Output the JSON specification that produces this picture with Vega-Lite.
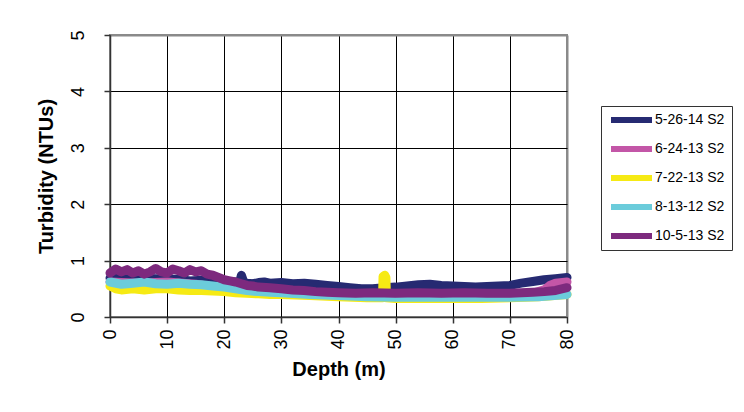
{
  "$schema": "https://vega.github.io/schema/vega-lite/v6.json",
  "autosize": "none",
  "width": 457,
  "height": 282,
  "padding": {"left": 110, "top": 35, "right": 177, "bottom": 95},
  "background": "white",
  "config": {
    "view": {"stroke": "#8a8a8a", "strokeWidth": 2},
    "font": "Liberation Sans",
    "axis": {
      "labelFont": "Liberation Sans",
      "labelColor": "black",
      "labelFontSize": 18,
      "titleFont": "Liberation Sans",
      "titleFontSize": 20,
      "titleFontWeight": "bold",
      "titleColor": "black",
      "domainColor": "#333",
      "domainWidth": 1.5,
      "tickColor": "#333",
      "tickSize": 6,
      "tickWidth": 1.5,
      "grid": true,
      "gridColor": {"condition": {"test": "datum.value == 5 || datum.value == 80", "value": "#8a8a8a"}, "value": "black"},
      "gridWidth": {"condition": {"test": "datum.value == 5 || datum.value == 80", "value": 2}, "value": 1}
    },
    "legend": {
      "labelFont": "Liberation Sans",
      "labelFontSize": 14,
      "labelColor": "black"
    }
  },
  "datasets": {
    "turb": [
      {"s": "5-26-14 S2", "d": 0, "t": 0.69}, {"s": "5-26-14 S2", "d": 4, "t": 0.69}, {"s": "5-26-14 S2", "d": 8, "t": 0.68},
      {"s": "5-26-14 S2", "d": 12, "t": 0.67}, {"s": "5-26-14 S2", "d": 14, "t": 0.64}, {"s": "5-26-14 S2", "d": 16, "t": 0.65},
      {"s": "5-26-14 S2", "d": 18, "t": 0.64}, {"s": "5-26-14 S2", "d": 20, "t": 0.63}, {"s": "5-26-14 S2", "d": 22, "t": 0.62},
      {"s": "5-26-14 S2", "d": 22.7, "t": 0.62}, {"s": "5-26-14 S2", "d": 23, "t": 0.74}, {"s": "5-26-14 S2", "d": 23.4, "t": 0.62},
      {"s": "5-26-14 S2", "d": 24, "t": 0.60}, {"s": "5-26-14 S2", "d": 25, "t": 0.59}, {"s": "5-26-14 S2", "d": 26, "t": 0.61},
      {"s": "5-26-14 S2", "d": 27, "t": 0.62}, {"s": "5-26-14 S2", "d": 28, "t": 0.60}, {"s": "5-26-14 S2", "d": 30, "t": 0.61},
      {"s": "5-26-14 S2", "d": 32, "t": 0.59}, {"s": "5-26-14 S2", "d": 34, "t": 0.60}, {"s": "5-26-14 S2", "d": 36, "t": 0.58},
      {"s": "5-26-14 S2", "d": 38, "t": 0.56}, {"s": "5-26-14 S2", "d": 40, "t": 0.54}, {"s": "5-26-14 S2", "d": 42, "t": 0.52},
      {"s": "5-26-14 S2", "d": 44, "t": 0.50}, {"s": "5-26-14 S2", "d": 46, "t": 0.50}, {"s": "5-26-14 S2", "d": 48, "t": 0.52},
      {"s": "5-26-14 S2", "d": 50, "t": 0.53}, {"s": "5-26-14 S2", "d": 52, "t": 0.55}, {"s": "5-26-14 S2", "d": 54, "t": 0.57},
      {"s": "5-26-14 S2", "d": 56, "t": 0.58}, {"s": "5-26-14 S2", "d": 58, "t": 0.56}, {"s": "5-26-14 S2", "d": 60, "t": 0.55},
      {"s": "5-26-14 S2", "d": 62, "t": 0.54}, {"s": "5-26-14 S2", "d": 64, "t": 0.53}, {"s": "5-26-14 S2", "d": 66, "t": 0.54},
      {"s": "5-26-14 S2", "d": 68, "t": 0.55}, {"s": "5-26-14 S2", "d": 70, "t": 0.56}, {"s": "5-26-14 S2", "d": 72, "t": 0.60},
      {"s": "5-26-14 S2", "d": 74, "t": 0.63}, {"s": "5-26-14 S2", "d": 76, "t": 0.66}, {"s": "5-26-14 S2", "d": 78, "t": 0.68},
      {"s": "5-26-14 S2", "d": 80, "t": 0.70},

      {"s": "6-24-13 S2", "d": 0, "t": 0.62}, {"s": "6-24-13 S2", "d": 5, "t": 0.60}, {"s": "6-24-13 S2", "d": 10, "t": 0.62},
      {"s": "6-24-13 S2", "d": 15, "t": 0.58}, {"s": "6-24-13 S2", "d": 20, "t": 0.50}, {"s": "6-24-13 S2", "d": 25, "t": 0.45},
      {"s": "6-24-13 S2", "d": 30, "t": 0.43}, {"s": "6-24-13 S2", "d": 35, "t": 0.41}, {"s": "6-24-13 S2", "d": 40, "t": 0.40},
      {"s": "6-24-13 S2", "d": 45, "t": 0.39}, {"s": "6-24-13 S2", "d": 50, "t": 0.39}, {"s": "6-24-13 S2", "d": 55, "t": 0.38},
      {"s": "6-24-13 S2", "d": 60, "t": 0.38}, {"s": "6-24-13 S2", "d": 65, "t": 0.38}, {"s": "6-24-13 S2", "d": 70, "t": 0.39},
      {"s": "6-24-13 S2", "d": 74, "t": 0.42}, {"s": "6-24-13 S2", "d": 76, "t": 0.48}, {"s": "6-24-13 S2", "d": 77, "t": 0.56},
      {"s": "6-24-13 S2", "d": 78, "t": 0.60}, {"s": "6-24-13 S2", "d": 80, "t": 0.62},

      {"s": "7-22-13 S2", "d": 0, "t": 0.55}, {"s": "7-22-13 S2", "d": 1, "t": 0.50}, {"s": "7-22-13 S2", "d": 2, "t": 0.48},
      {"s": "7-22-13 S2", "d": 4, "t": 0.50}, {"s": "7-22-13 S2", "d": 6, "t": 0.48}, {"s": "7-22-13 S2", "d": 8, "t": 0.50},
      {"s": "7-22-13 S2", "d": 10, "t": 0.50}, {"s": "7-22-13 S2", "d": 12, "t": 0.48}, {"s": "7-22-13 S2", "d": 14, "t": 0.47},
      {"s": "7-22-13 S2", "d": 16, "t": 0.47}, {"s": "7-22-13 S2", "d": 18, "t": 0.46}, {"s": "7-22-13 S2", "d": 20, "t": 0.45},
      {"s": "7-22-13 S2", "d": 22, "t": 0.43}, {"s": "7-22-13 S2", "d": 24, "t": 0.42}, {"s": "7-22-13 S2", "d": 26, "t": 0.41},
      {"s": "7-22-13 S2", "d": 28, "t": 0.40}, {"s": "7-22-13 S2", "d": 30, "t": 0.40}, {"s": "7-22-13 S2", "d": 35, "t": 0.38},
      {"s": "7-22-13 S2", "d": 40, "t": 0.36}, {"s": "7-22-13 S2", "d": 45, "t": 0.34}, {"s": "7-22-13 S2", "d": 47.7, "t": 0.34},
      {"s": "7-22-13 S2", "d": 47.8, "t": 0.72}, {"s": "7-22-13 S2", "d": 48.1, "t": 0.74}, {"s": "7-22-13 S2", "d": 48.3, "t": 0.70},
      {"s": "7-22-13 S2", "d": 48.4, "t": 0.34}, {"s": "7-22-13 S2", "d": 50, "t": 0.33}, {"s": "7-22-13 S2", "d": 55, "t": 0.33},
      {"s": "7-22-13 S2", "d": 60, "t": 0.33}, {"s": "7-22-13 S2", "d": 65, "t": 0.33}, {"s": "7-22-13 S2", "d": 70, "t": 0.34},
      {"s": "7-22-13 S2", "d": 75, "t": 0.36}, {"s": "7-22-13 S2", "d": 80, "t": 0.40},

      {"s": "8-13-12 S2", "d": 0, "t": 0.62}, {"s": "8-13-12 S2", "d": 2, "t": 0.58}, {"s": "8-13-12 S2", "d": 4, "t": 0.60},
      {"s": "8-13-12 S2", "d": 6, "t": 0.62}, {"s": "8-13-12 S2", "d": 8, "t": 0.59}, {"s": "8-13-12 S2", "d": 10, "t": 0.58},
      {"s": "8-13-12 S2", "d": 12, "t": 0.60}, {"s": "8-13-12 S2", "d": 14, "t": 0.58}, {"s": "8-13-12 S2", "d": 16, "t": 0.57},
      {"s": "8-13-12 S2", "d": 18, "t": 0.55}, {"s": "8-13-12 S2", "d": 20, "t": 0.53}, {"s": "8-13-12 S2", "d": 22, "t": 0.50},
      {"s": "8-13-12 S2", "d": 24, "t": 0.47}, {"s": "8-13-12 S2", "d": 26, "t": 0.45}, {"s": "8-13-12 S2", "d": 28, "t": 0.44},
      {"s": "8-13-12 S2", "d": 30, "t": 0.43}, {"s": "8-13-12 S2", "d": 35, "t": 0.40}, {"s": "8-13-12 S2", "d": 40, "t": 0.38},
      {"s": "8-13-12 S2", "d": 45, "t": 0.36}, {"s": "8-13-12 S2", "d": 50, "t": 0.35}, {"s": "8-13-12 S2", "d": 55, "t": 0.35},
      {"s": "8-13-12 S2", "d": 60, "t": 0.35}, {"s": "8-13-12 S2", "d": 65, "t": 0.35}, {"s": "8-13-12 S2", "d": 70, "t": 0.35},
      {"s": "8-13-12 S2", "d": 75, "t": 0.36}, {"s": "8-13-12 S2", "d": 80, "t": 0.40},

      {"s": "10-5-13 S2", "d": 0, "t": 0.78}, {"s": "10-5-13 S2", "d": 1, "t": 0.85}, {"s": "10-5-13 S2", "d": 2, "t": 0.80},
      {"s": "10-5-13 S2", "d": 3, "t": 0.84}, {"s": "10-5-13 S2", "d": 4, "t": 0.78}, {"s": "10-5-13 S2", "d": 5, "t": 0.82},
      {"s": "10-5-13 S2", "d": 6, "t": 0.76}, {"s": "10-5-13 S2", "d": 7, "t": 0.80}, {"s": "10-5-13 S2", "d": 8, "t": 0.86},
      {"s": "10-5-13 S2", "d": 9, "t": 0.80}, {"s": "10-5-13 S2", "d": 10, "t": 0.78}, {"s": "10-5-13 S2", "d": 11, "t": 0.85},
      {"s": "10-5-13 S2", "d": 12, "t": 0.82}, {"s": "10-5-13 S2", "d": 13, "t": 0.78}, {"s": "10-5-13 S2", "d": 14, "t": 0.84},
      {"s": "10-5-13 S2", "d": 15, "t": 0.80}, {"s": "10-5-13 S2", "d": 16, "t": 0.82}, {"s": "10-5-13 S2", "d": 17, "t": 0.76},
      {"s": "10-5-13 S2", "d": 18, "t": 0.74}, {"s": "10-5-13 S2", "d": 19, "t": 0.70}, {"s": "10-5-13 S2", "d": 20, "t": 0.66},
      {"s": "10-5-13 S2", "d": 21, "t": 0.64}, {"s": "10-5-13 S2", "d": 22, "t": 0.62}, {"s": "10-5-13 S2", "d": 23, "t": 0.59},
      {"s": "10-5-13 S2", "d": 24, "t": 0.56}, {"s": "10-5-13 S2", "d": 25, "t": 0.55}, {"s": "10-5-13 S2", "d": 26, "t": 0.53},
      {"s": "10-5-13 S2", "d": 28, "t": 0.52}, {"s": "10-5-13 S2", "d": 30, "t": 0.50}, {"s": "10-5-13 S2", "d": 32, "t": 0.48},
      {"s": "10-5-13 S2", "d": 34, "t": 0.47}, {"s": "10-5-13 S2", "d": 36, "t": 0.45}, {"s": "10-5-13 S2", "d": 38, "t": 0.44},
      {"s": "10-5-13 S2", "d": 40, "t": 0.43}, {"s": "10-5-13 S2", "d": 43, "t": 0.42}, {"s": "10-5-13 S2", "d": 46, "t": 0.43},
      {"s": "10-5-13 S2", "d": 50, "t": 0.42}, {"s": "10-5-13 S2", "d": 54, "t": 0.43}, {"s": "10-5-13 S2", "d": 58, "t": 0.42},
      {"s": "10-5-13 S2", "d": 62, "t": 0.43}, {"s": "10-5-13 S2", "d": 66, "t": 0.42}, {"s": "10-5-13 S2", "d": 70, "t": 0.42},
      {"s": "10-5-13 S2", "d": 72, "t": 0.43}, {"s": "10-5-13 S2", "d": 74, "t": 0.44}, {"s": "10-5-13 S2", "d": 76, "t": 0.45},
      {"s": "10-5-13 S2", "d": 78, "t": 0.47}, {"s": "10-5-13 S2", "d": 80, "t": 0.52}
    ]
  },
  "data": {"name": "turb"},
  "encoding": {
    "x": {
      "field": "d", "type": "quantitative",
      "scale": {"domain": [0, 80], "nice": false},
      "axis": {"values": [0, 10, 20, 30, 40, 50, 60, 70, 80], "title": "Depth (m)", "labelAngle": 270, "labelAlign": "right", "labelBaseline": "middle", "labelPadding": 6, "titlePadding": 10}
    },
    "y": {
      "field": "t", "type": "quantitative",
      "scale": {"domain": [0, 5], "nice": false},
      "axis": {"values": [0, 1, 2, 3, 4, 5], "title": "Turbidity (NTUs)", "labelAngle": 270, "labelAlign": "center", "labelBaseline": "alphabetic", "labelPadding": 21, "titlePadding": 13}
    },
    "color": {
      "field": "s", "type": "nominal",
      "scale": {
        "domain": ["5-26-14 S2", "6-24-13 S2", "7-22-13 S2", "8-13-12 S2", "10-5-13 S2"],
        "range": ["#262A72", "#C356A7", "#F6EA14", "#6BCCDB", "#7D2A7E"]
      },
      "legend": {
        "title": null,
        "orient": "none",
        "legendX": 491,
        "legendY": 71,
        "symbolType": "stroke",
        "symbolSize": 1681,
        "symbolStrokeWidth": 6,
        "clipHeight": 14,
        "labelOffset": 0,
        "rowPadding": 15,
        "padding": 7,
        "strokeColor": "#333",
        "fillColor": "white"
      }
    }
  },
  "layer": [
    {"transform": [{"filter": "datum.s == '5-26-14 S2'"}], "mark": {"type": "line", "strokeWidth": 9, "strokeCap": "round", "strokeJoin": "round"}},
    {"transform": [{"filter": "datum.s == '6-24-13 S2'"}], "mark": {"type": "line", "strokeWidth": 9, "strokeCap": "round", "strokeJoin": "round"}},
    {"transform": [{"filter": "datum.s == '7-22-13 S2'"}], "mark": {"type": "line", "strokeWidth": 9, "strokeCap": "round", "strokeJoin": "round"}},
    {"transform": [{"filter": "datum.s == '8-13-12 S2'"}], "mark": {"type": "line", "strokeWidth": 9, "strokeCap": "round", "strokeJoin": "round"}},
    {"transform": [{"filter": "datum.s == '10-5-13 S2'"}], "mark": {"type": "line", "strokeWidth": 9, "strokeCap": "round", "strokeJoin": "round"}}
  ]
}
